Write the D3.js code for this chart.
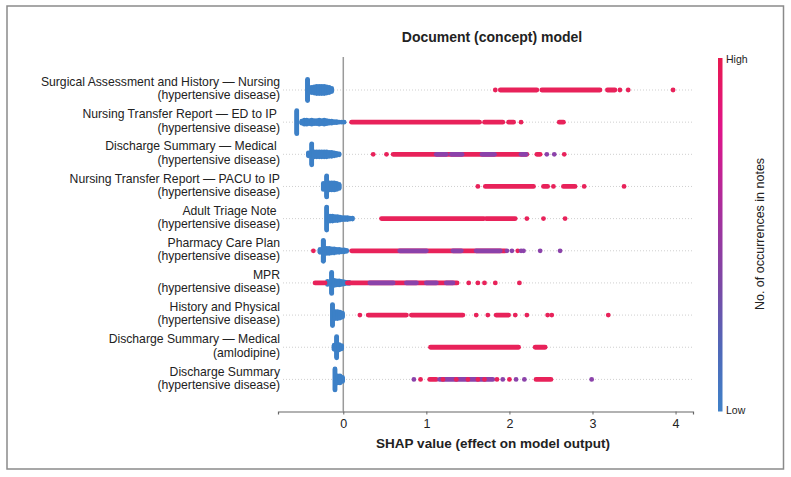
<!DOCTYPE html>
<html><head><meta charset="utf-8">
<script src="https://cdn.jsdelivr.net/npm/d3@7"></script>
<style>
html,body{margin:0;padding:0;background:#fff;}
text{font-family:"Liberation Sans",Arial,Helvetica,sans-serif;}
</style></head>
<body>
<svg id="chart" width="791" height="477"></svg>
<script>
// ---- data ----
const title = "Document (concept) model";
const xTitle = "SHAP value (effect on model output)";
const colorTitle = "No. of occurrences in notes";
const featureLine1 = [
  "Surgical Assessment and History \u2014 Nursing",
  "Nursing Transfer Report \u2014 ED to IP ",
  "Discharge Summary \u2014 Medical ",
  "Nursing Transfer Report \u2014 PACU to IP",
  "Adult Triage Note ",
  "Pharmacy Care Plan",
  "MPR",
  "History and Physical",
  "Discharge Summary \u2014 Medical",
  "Discharge Summary"
];
const featureLine2 = [
  "(hypertensive disease)", "(hypertensive disease)", "(hypertensive disease)",
  "(hypertensive disease)", "(hypertensive disease)", "(hypertensive disease)",
  "(hypertensive disease)", "(hypertensive disease)", "(amlodipine)",
  "(hypertensive disease)"
];
const xTicks = [0, 1, 2, 3, 4];
// low feature values (blue): [SHAP value, number of stacked points]
const lowStacks = [
  [[-0.43,22],[-0.40,5],[-0.38,6],[-0.35,7],[-0.32,8],[-0.29,8],[-0.26,8],[-0.23,8],[-0.20,7],[-0.17,6],[-0.14,4]],
  [[-0.56,24],[-0.50,3],[-0.47,5],[-0.44,5],[-0.41,4],[-0.38,5],[-0.35,4],[-0.32,4],[-0.29,5],[-0.26,4],[-0.23,5],[-0.20,4],[-0.17,3],[-0.14,3],[-0.11,2],[-0.08,2],[-0.05,1],[-0.02,1],[0.01,1]],
  [[-0.38,22],[-0.42,4],[-0.35,6],[-0.32,6],[-0.29,6],[-0.26,6],[-0.23,6],[-0.20,6],[-0.17,5],[-0.14,5],[-0.11,4],[-0.08,3],[-0.05,2]],
  [[-0.20,22],[-0.24,7],[-0.17,8],[-0.14,8],[-0.11,8],[-0.08,7],[-0.05,5]],
  [[-0.20,24],[-0.16,6],[-0.13,6],[-0.10,5],[-0.07,5],[-0.04,4],[-0.01,3],[0.02,3],[0.05,3],[0.08,2],[0.11,2]],
  [[-0.24,22],[-0.28,4],[-0.20,6],[-0.17,6],[-0.14,5],[-0.11,5],[-0.08,4],[-0.05,4],[-0.02,3],[0.01,3],[0.04,2]],
  [[-0.14,22],[-0.19,4],[-0.11,6],[-0.08,5],[-0.05,5],[-0.02,4],[0.01,3],[0.04,2],[0.07,2]],
  [[-0.13,22],[-0.10,8],[-0.07,8],[-0.04,7],[-0.01,5]],
  [[-0.08,22],[-0.11,5],[-0.05,6],[-0.02,4]],
  [[-0.10,22],[-0.07,8],[-0.04,8],[-0.01,5]]
];
// dense runs of points: [from SHAP, to SHAP, feature value 0..1]
const highRuns = [
  [[1.89,2.33,1],[2.39,3.09,1],[3.18,3.27,1]],
  [[0.10,1.64,1],[1.70,1.92,1],[1.99,2.05,1],[2.60,2.65,1]],
  [[0.60,2.21,1],[1.12,1.24,0.5],[1.30,1.43,0.5],[1.67,1.82,0.5],[2.14,2.20,0.5],[2.33,2.37,1]],
  [[1.71,2.29,1],[2.41,2.46,1],[2.65,2.79,1]],
  [[0.46,1.69,1],[1.72,2.07,1]],
  [[0.10,1.95,1],[0.68,1.00,0.5],[1.32,1.42,0.5],[1.60,1.89,0.5]],
  [[-0.34,-0.22,1],[0.05,1.37,1],[0.32,0.60,0.5],[0.76,0.88,0.5],[1.00,1.12,0.5],[1.24,1.32,0.5]],
  [[0.30,0.76,1],[0.82,1.44,1],[1.84,1.99,1]],
  [[1.05,2.11,1],[2.31,2.43,1]],
  [[1.04,1.12,1],[1.16,1.80,0.5],[2.32,2.50,1]]
];
// isolated points: [SHAP value, feature value 0..1]
const highDots = [
  [[1.83,1],[3.33,1],[3.43,1],[3.97,1]],
  [[2.14,1]],
  [[0.36,1],[0.52,1],[2.45,0.5],[2.54,0.5],[2.66,1]],
  [[1.62,1],[2.53,1],[2.90,1],[3.38,1]],
  [[2.21,1],[2.41,1],[2.67,1]],
  [[-0.36,1],[1.97,0.5],[2.03,0.5],[2.10,1],[2.14,0.5],[2.17,0.5],[2.37,0.5],[2.61,0.5]],
  [[1.51,1],[1.62,1],[1.70,1],[1.83,1],[2.12,1]],
  [[0.20,1],[1.60,1],[1.74,1],[2.07,1],[2.21,1],[2.46,1],[2.51,1],[3.19,1]],
  [],
  [[0.85,0.5],[0.93,1],[1.20,1],[1.36,1],[1.50,1],[1.62,1],[1.70,1],[1.85,1],[1.92,0.5],[2.00,1],[2.08,0.5],[2.18,0.5],[2.99,0.5]]
];

// ---- drawing ----
const svg = d3.select("#chart");
const x = d3.scaleLinear().domain([-0.786, 4.21]).range([278, 693]);
const y = d3.scalePoint().domain(d3.range(featureLine1.length)).range([90, 379.4]);
const color = d3.scaleLinear().domain([0, 0.5, 1]).range(["#3d80c7", "#8b42aa", "#e8225a"]);
const r = 2.4;

// frame
svg.append("rect").attr("x", 7).attr("y", 6).attr("width", 776.5).attr("height", 463)
  .attr("fill", "none").attr("stroke", "#8a8a8a").attr("stroke-width", 1.5);

// title
svg.append("text").attr("x", 492).attr("y", 42).attr("text-anchor", "middle")
  .attr("font-size", 14).attr("font-weight", "bold").attr("fill", "#222").text(title);

// row dotted guides
svg.append("g").selectAll("line").data(y.domain()).join("line")
  .attr("x1", 283).attr("x2", 693).attr("y1", d => y(d)).attr("y2", d => y(d))
  .attr("stroke", "#cfcfcf").attr("stroke-width", 1).attr("stroke-dasharray", "1,2");

// zero line
svg.append("line").attr("x1", x(0)).attr("x2", x(0)).attr("y1", 57).attr("y2", 411.5)
  .attr("stroke", "#9a9a9a").attr("stroke-width", 1.5);

// labels
const lab = svg.append("g").attr("font-size", 12.2).attr("fill", "#222").attr("text-anchor", "end");
featureLine1.forEach((t, i) => {
  const g = lab.append("text").attr("x", 280).attr("y", y(i) - 2).style("white-space", "pre");
  g.append("tspan").attr("x", 280).attr("dy", "-0.15em").text(t);
  g.append("tspan").attr("x", 280).attr("dy", "1.08em").text(featureLine2[i]);
});

// blue stacks
const pts = svg.append("g");
lowStacks.forEach((row, i) => {
  row.forEach(([v, n]) => {
    for (let k = 0; k < n; k++) {
      pts.append("circle").attr("cx", x(v)).attr("cy", y(i) + (k - (n - 1) / 2) * 1.0)
        .attr("r", r).attr("fill", color(0));
    }
  });
});
// runs
highRuns.forEach((row, i) => {
  pts.selectAll(null).data(row).join("line")
    .attr("x1", d => x(d[0])).attr("x2", d => x(d[1]))
    .attr("y1", y(i)).attr("y2", y(i))
    .attr("stroke", d => color(d[2])).attr("stroke-width", 2 * r).attr("stroke-linecap", "round");
});
// dots
highDots.forEach((row, i) => {
  pts.selectAll(null).data(row).join("circle")
    .attr("cx", d => x(d[0])).attr("cy", y(i)).attr("r", r).attr("fill", d => color(d[1]));
});

// x axis
const ax = svg.append("g").attr("transform", "translate(0,411.5)")
  .call(d3.axisBottom(x).tickValues(xTicks).tickFormat(d3.format("d")).tickSizeOuter(0).tickSize(3));
ax.select(".domain").attr("stroke", "#666").attr("stroke-width", 1.2);
ax.selectAll(".tick line").attr("stroke", "#666");
ax.selectAll(".tick text").attr("font-size", 12.5).attr("fill", "#222").attr("dy", "0.8em")
  .attr("font-family", "Liberation Sans, Arial, sans-serif");
svg.append("text").attr("x", 493).attr("y", 448).attr("text-anchor", "middle")
  .attr("font-size", 13.5).attr("font-weight", "bold").attr("fill", "#222").text(xTitle);

// colour bar
const defs = svg.append("defs");
const grad = defs.append("linearGradient").attr("id", "cb").attr("x1", 0).attr("y1", 1).attr("x2", 0).attr("y2", 0);
[[0, "#3f81c8"], [0.18, "#5068b8"], [0.35, "#7a4aa6"], [0.55, "#a4319e"], [0.8, "#e0148a"], [1, "#e8194f"]]
  .forEach(([o, c]) => grad.append("stop").attr("offset", o).attr("stop-color", c));
svg.append("rect").attr("x", 718).attr("y", 58).attr("width", 4.5).attr("height", 353.5).attr("fill", "url(#cb)");
svg.append("text").attr("x", 726).attr("y", 62.5).attr("font-size", 10.5).attr("fill", "#222").text("High");
svg.append("text").attr("x", 726).attr("y", 414).attr("font-size", 10.5).attr("fill", "#222").text("Low");
svg.append("text").attr("transform", "translate(764,234) rotate(-90)").attr("text-anchor", "middle")
  .attr("font-size", 12.5).attr("fill", "#222").text(colorTitle);
</script>
</body></html>
